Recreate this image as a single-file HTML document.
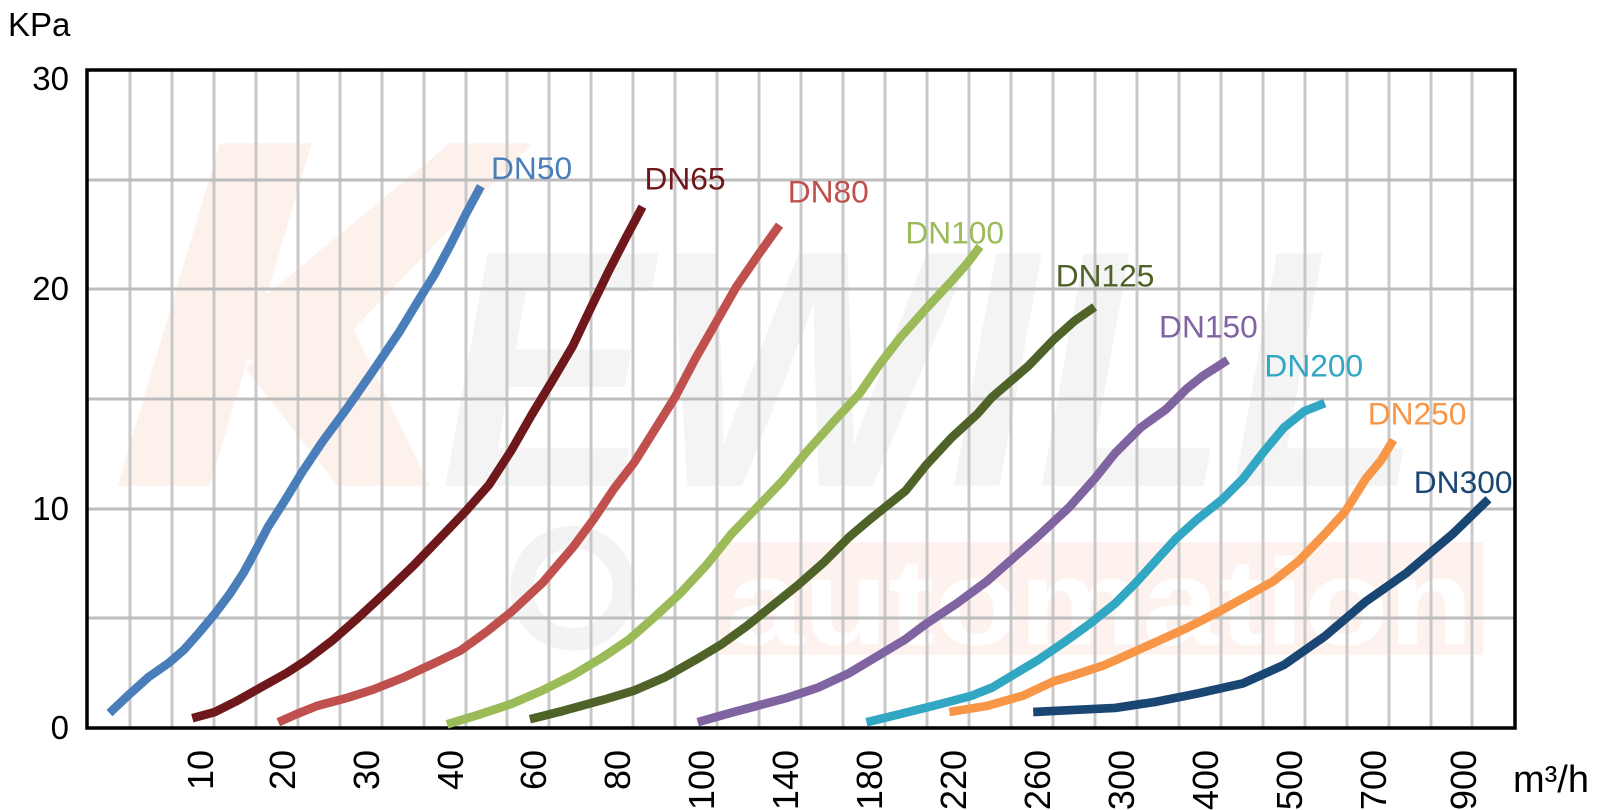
<!DOCTYPE html>
<html><head><meta charset="utf-8"><style>
html,body{margin:0;padding:0;background:#fff;}
svg{display:block;font-family:"Liberation Sans",Arial,sans-serif;}
</style></head><body>
<svg width="1603" height="810" viewBox="0 0 1603 810" xmlns="http://www.w3.org/2000/svg">
<!-- watermark -->
<g transform="scale(1.023)">
<polygon points="115,475 215,140 305,140 205,475" fill="#fdf1ec"/>
<polygon points="210,330 440,140 520,140 290,380" fill="#fdf1ec"/>
<polygon points="240,360 330,290 420,475 330,475" fill="#fdf1ec"/>
<text x="430" y="475" font-size="330" font-weight="bold" font-style="italic" fill="#f4f4f4" textLength="960" lengthAdjust="spacingAndGlyphs">EWILL</text>
<rect x="700" y="530" width="750" height="110" fill="#fdf2ee"/>
<text x="710" y="630" font-size="120" font-weight="bold" fill="#ffffff" textLength="730" lengthAdjust="spacingAndGlyphs">automation</text>
<circle cx="560" cy="575" r="50" fill="none" stroke="#f3f3f3" stroke-width="22"/>
</g>
<!-- grid -->
<g stroke="#c8c8c8" stroke-width="3">
<line x1="130" y1="70" x2="130" y2="728"/><line x1="172" y1="70" x2="172" y2="728"/><line x1="214" y1="70" x2="214" y2="728"/><line x1="256" y1="70" x2="256" y2="728"/><line x1="298" y1="70" x2="298" y2="728"/><line x1="340" y1="70" x2="340" y2="728"/><line x1="382" y1="70" x2="382" y2="728"/><line x1="424" y1="70" x2="424" y2="728"/><line x1="466" y1="70" x2="466" y2="728"/><line x1="507" y1="70" x2="507" y2="728"/><line x1="549" y1="70" x2="549" y2="728"/><line x1="591" y1="70" x2="591" y2="728"/><line x1="633" y1="70" x2="633" y2="728"/><line x1="675" y1="70" x2="675" y2="728"/><line x1="717" y1="70" x2="717" y2="728"/><line x1="759" y1="70" x2="759" y2="728"/><line x1="801" y1="70" x2="801" y2="728"/><line x1="843" y1="70" x2="843" y2="728"/><line x1="885" y1="70" x2="885" y2="728"/><line x1="927" y1="70" x2="927" y2="728"/><line x1="969" y1="70" x2="969" y2="728"/><line x1="1011" y1="70" x2="1011" y2="728"/><line x1="1053" y1="70" x2="1053" y2="728"/><line x1="1095" y1="70" x2="1095" y2="728"/><line x1="1137" y1="70" x2="1137" y2="728"/><line x1="1179" y1="70" x2="1179" y2="728"/><line x1="1221" y1="70" x2="1221" y2="728"/><line x1="1263" y1="70" x2="1263" y2="728"/><line x1="1305" y1="70" x2="1305" y2="728"/><line x1="1347" y1="70" x2="1347" y2="728"/><line x1="1389" y1="70" x2="1389" y2="728"/><line x1="1431" y1="70" x2="1431" y2="728"/><line x1="1472" y1="70" x2="1472" y2="728"/>
</g>
<g stroke="#bdbdbd" stroke-width="3">
<line x1="87" y1="180" x2="1515" y2="180"/><line x1="87" y1="289" x2="1515" y2="289"/><line x1="87" y1="399" x2="1515" y2="399"/><line x1="87" y1="509" x2="1515" y2="509"/><line x1="87" y1="618" x2="1515" y2="618"/>
</g>
<rect x="87" y="70" width="1428" height="658" fill="none" stroke="#000" stroke-width="3.5"/>
<!-- curves -->
<g transform="scale(1.023)" fill="none" stroke-width="8.5" stroke-linejoin="round">
<polyline stroke="#4a7ebb" points="107,697 125,680 145,662 165,648 180,635 195,618 210,600 225,580 238,560 250,538 262,515 278,490 295,462 315,432 340,398 365,362 390,325 410,292 425,268 440,240 455,210 470,182"/>
<polyline stroke="#6e181b" points="188,702 210,696 230,686 255,672 280,658 300,645 325,626 350,604 378,578 405,552 430,526 455,500 478,474 500,440 520,405 540,372 560,338 578,300 595,265 612,232 628,202"/>
<polyline stroke="#c0504d" points="272,706 290,698 310,690 340,682 365,674 395,662 425,648 450,636 475,618 500,598 530,570 560,535 580,508 600,478 620,452 640,420 660,388 680,350 700,315 720,280 742,248 762,220"/>
<polyline stroke="#9bbb59" points="437,708 470,698 500,688 530,675 560,660 590,642 615,625 640,603 665,580 690,553 715,522 740,496 765,470 790,440 815,412 840,385 860,356 880,330 905,302 930,275 945,258 958,241"/>
<polyline stroke="#4f6228" points="518,703 550,695 590,684 620,675 650,662 680,645 705,630 730,612 755,592 780,572 805,550 830,525 850,508 885,480 905,455 930,428 955,405 970,388 1005,358 1030,332 1050,314 1070,300"/>
<polyline stroke="#8064a2" points="682,706 710,698 740,690 770,682 800,672 830,658 860,640 885,625 905,610 935,590 965,568 990,546 1015,524 1045,496 1070,468 1090,443 1115,418 1140,400 1160,380 1175,368 1200,352"/>
<polyline stroke="#31a7c4" points="847,706 880,698 920,688 950,680 970,672 990,660 1015,645 1040,628 1065,610 1090,590 1110,570 1130,548 1150,526 1170,508 1195,488 1215,468 1235,442 1255,418 1275,402 1295,394"/>
<polyline stroke="#f79646" points="928,696 965,690 1000,680 1030,666 1050,660 1080,650 1120,632 1160,614 1195,596 1220,582 1245,568 1270,548 1295,522 1315,500 1335,468 1350,450 1362,430"/>
<polyline stroke="#1a4674" points="1010,696 1050,694 1090,692 1130,686 1170,678 1215,668 1255,650 1295,622 1335,588 1375,560 1420,522 1455,488"/>
</g>
<g transform="scale(1.023)" font-size="31">
<text x="480" y="175" fill="#4a7ebb">DN50</text>
<text x="630" y="185" fill="#6e181b">DN65</text>
<text x="770" y="198" fill="#c0504d">DN80</text>
<text x="885" y="238" fill="#9bbb59">DN100</text>
<text x="1032" y="280" fill="#4f6228">DN125</text>
<text x="1133" y="330" fill="#8064a2">DN150</text>
<text x="1236" y="368" fill="#31a7c4">DN200</text>
<text x="1337" y="415" fill="#f79646">DN250</text>
<text x="1382" y="482" fill="#1a4674">DN300</text>
</g>
<!-- axes labels -->
<g font-size="33" fill="#000">
<text x="8" y="36">KPa</text>
<text x="69" y="90" text-anchor="end">30</text>
<text x="69" y="300" text-anchor="end">20</text>
<text x="69" y="520" text-anchor="end">10</text>
<text x="69" y="739" text-anchor="end">0</text>
<text x="1513" y="792" font-size="38">m³/h</text>
</g>
<g font-size="36" fill="#000" text-anchor="end">
<text transform="translate(213,750) rotate(-90)">10</text>
<text transform="translate(295,750) rotate(-90)">20</text>
<text transform="translate(379,750) rotate(-90)">30</text>
<text transform="translate(463,750) rotate(-90)">40</text>
<text transform="translate(546,750) rotate(-90)">60</text>
<text transform="translate(630,750) rotate(-90)">80</text>
<text transform="translate(714,750) rotate(-90)">100</text>
<text transform="translate(798,750) rotate(-90)">140</text>
<text transform="translate(882,750) rotate(-90)">180</text>
<text transform="translate(966,750) rotate(-90)">220</text>
<text transform="translate(1050,750) rotate(-90)">260</text>
<text transform="translate(1134,750) rotate(-90)">300</text>
<text transform="translate(1218,750) rotate(-90)">400</text>
<text transform="translate(1302,750) rotate(-90)">500</text>
<text transform="translate(1386,750) rotate(-90)">700</text>
<text transform="translate(1476,750) rotate(-90)">900</text>
</g>
</svg>
</body></html>
